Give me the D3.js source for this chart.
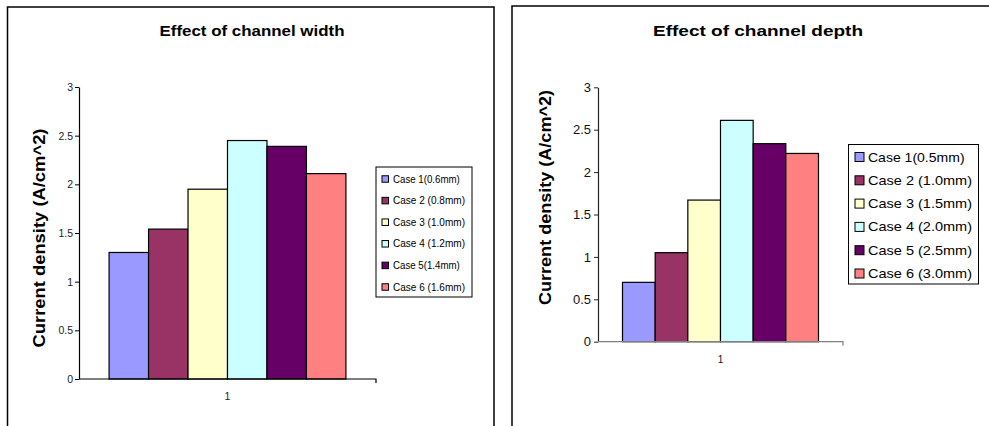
<!DOCTYPE html>
<html>
<head>
<meta charset="utf-8">
<script src="https://cdn.jsdelivr.net/npm/d3@7"></script>
<style>
  html, body { margin: 0; padding: 0; background: #fff; }
  svg { display: block; font-family: "Liberation Sans", Arial, sans-serif; }
</style>
</head>
<body>
<svg id="chart" width="989" height="426"></svg>
<script>
// Shared series colours and category
const seriesColors = ["#9999FF", "#993366", "#FFFFCC", "#CCFFFF", "#660066", "#FF8080"];
const category = ["1"];
const yTicks = [0, 0.5, 1, 1.5, 2, 2.5, 3];

// Panel 1: channel width
const widthTitle = "Effect of channel width";
const widthLegend = ["Case 1(0.6mm)", "Case 2 (0.8mm)", "Case 3 (1.0mm)", "Case 4 (1.2mm)", "Case 5(1.4mm)", "Case 6 (1.6mm)"];
const widthValues = [1.30, 1.54, 1.95, 2.45, 2.39, 2.11];

// Panel 2: channel depth
const depthTitle = "Effect of channel depth";
const depthLegend = ["Case 1(0.5mm)", "Case 2 (1.0mm)", "Case 3 (1.5mm)", "Case 4 (2.0mm)", "Case 5 (2.5mm)", "Case 6 (3.0mm)"];
const depthValues = [0.70, 1.05, 1.67, 2.61, 2.335, 2.22];

const yLabel = "Current density (A/cm^2)";

const svg = d3.select("#chart");

function drawPanel(cfg) {
  const g = svg.append("g");

  // chart frame
  g.append("rect")
    .attr("x", cfg.frame[0]).attr("y", cfg.frame[1])
    .attr("width", cfg.frame[2]).attr("height", cfg.frame[3])
    .attr("fill", "#fff").attr("stroke", "#000").attr("stroke-width", 1.5);

  const p = cfg.plot; // [x0, y0, x1, y1]
  const y = d3.scaleLinear().domain([0, 3]).range([p[3], p[1]]);
  const xCat = d3.scaleBand().domain(category).range([p[0], p[2]]).paddingInner(0).paddingOuter(cfg.outerPad);
  const xSeries = d3.scaleBand().domain(d3.range(cfg.values.length)).range([0, xCat.bandwidth()]);

  // bars
  g.append("g").selectAll("rect")
    .data(cfg.values)
    .join("rect")
    .attr("x", (d, i) => xCat(category[0]) + xSeries(i))
    .attr("y", d => y(d))
    .attr("width", xSeries.bandwidth())
    .attr("height", d => y(0) - y(d))
    .attr("fill", (d, i) => seriesColors[i])
    .attr("stroke", "#000").attr("stroke-width", 1.2);

  // y axis
  const yAxis = g.append("g")
    .attr("transform", `translate(${p[0]},0)`)
    .call(d3.axisLeft(y).tickValues(yTicks).tickSize(4).tickSizeOuter(0).tickFormat(d3.format("")));
  yAxis.select(".domain").attr("stroke", cfg.yAxisColor).attr("stroke-width", 1.2);
  yAxis.selectAll(".tick line").attr("stroke", cfg.yAxisColor);
  yAxis.selectAll(".tick text")
    .attr("font-size", cfg.tickFont).attr("fill", cfg.tickColor)
    .attr("x", -cfg.tickGap).attr("font-family", "Liberation Sans, Arial, sans-serif");

  // x axis
  const xAxis = g.append("g")
    .attr("transform", `translate(0,${p[3]})`)
    .call(d3.axisBottom(xCat).tickSize(0).tickPadding(cfg.xTickPad));
  xAxis.select(".domain").attr("stroke", cfg.xAxisColor).attr("stroke-width", 1.2)
    .attr("d", `M${p[0]},0H${p[2]}V4`);
  xAxis.selectAll(".tick text")
    .attr("font-size", cfg.xTickFont).attr("fill", cfg.tickColor)
    .attr("font-family", "Liberation Sans, Arial, sans-serif");

  // title
  g.append("text")
    .attr("x", cfg.titlePos[0]).attr("y", cfg.titlePos[1])
    .attr("text-anchor", "middle")
    .attr("font-size", 15).attr("font-weight", "bold")
    .attr("textLength", cfg.titleLen).attr("lengthAdjust", "spacingAndGlyphs")
    .text(cfg.title);

  // y label
  g.append("text")
    .attr("transform", `translate(${cfg.yLabelPos[0]},${cfg.yLabelPos[1]}) rotate(-90)`)
    .attr("text-anchor", "middle")
    .attr("font-size", 16).attr("font-weight", "bold")
    .attr("textLength", cfg.yLabelLen).attr("lengthAdjust", "spacingAndGlyphs")
    .text(yLabel);

  // legend
  const L = cfg.legend;
  g.append("rect")
    .attr("x", L.x).attr("y", L.y).attr("width", L.w).attr("height", L.h)
    .attr("fill", "#fff").attr("stroke", "#000").attr("stroke-width", 1);
  const items = g.append("g").selectAll("g")
    .data(cfg.names)
    .join("g")
    .attr("transform", (d, i) => `translate(${L.x},${L.firstY + i * L.step})`);
  items.append("rect")
    .attr("x", L.swX).attr("y", -L.sw / 2)
    .attr("width", L.sw).attr("height", L.sw)
    .attr("fill", (d, i) => seriesColors[i])
    .attr("stroke", "#000").attr("stroke-width", 1);
  items.append("text")
    .attr("x", L.textX).attr("dy", "0.35em")
    .attr("font-size", L.font).attr("fill", "#000")
    .attr("textLength", (d) => L.textLen * d.length / 14).attr("lengthAdjust", "spacingAndGlyphs")
    .text(d => d);
}

drawPanel({
  frame: [7.5, 7, 486.5, 430],
  plot: [79, 87, 376, 379],
  outerPad: 0.127,
  values: widthValues,
  names: widthLegend,
  title: widthTitle, titlePos: [252, 36], titleLen: 185,
  yLabelPos: [45, 238], yLabelLen: 219,
  yAxisColor: "#000", xAxisColor: "#000",
  tickFont: 10.5, tickColor: "#222", tickGap: 6,
  xTickFont: 10.5, xTickPad: 14,
  legend: { x: 376, y: 167, w: 96, h: 130, firstY: 179, step: 21.6, swX: 6, sw: 6.5, textX: 17, font: 10.5, textLen: 72 }
});

drawPanel({
  frame: [512, 6, 500, 430],
  plot: [598, 87.3, 843, 341.7],
  outerPad: 0.125,
  values: depthValues,
  names: depthLegend,
  title: depthTitle, titlePos: [758, 36], titleLen: 210,
  yLabelPos: [551, 197.5], yLabelLen: 215,
  yAxisColor: "#222", xAxisColor: "#808080",
  tickFont: 13, tickColor: "#111", tickGap: 7,
  xTickFont: 10, xTickPad: 14,
  legend: { x: 848.5, y: 144.5, w: 130, h: 139.5, firstY: 157, step: 23.3, swX: 6.5, sw: 9, textX: 19.5, font: 13, textLen: 104 }
});
</script>
</body>
</html>
